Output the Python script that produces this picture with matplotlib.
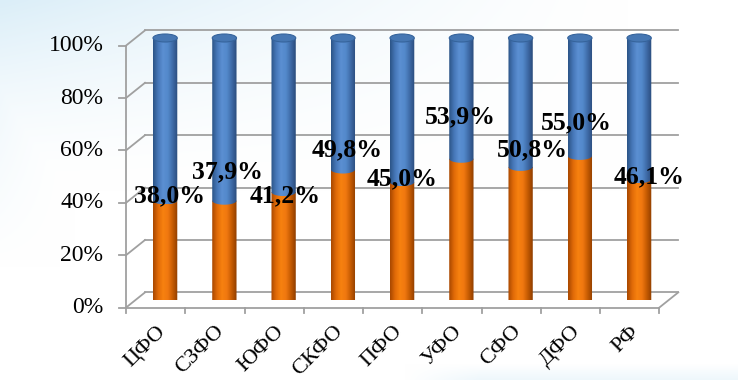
import numpy as np
import matplotlib
matplotlib.use("Agg")
import matplotlib.pyplot as plt
from matplotlib.colors import LinearSegmentedColormap, to_rgb
from matplotlib.patches import Polygon, Ellipse

# data
regions = ["ЦФО", "СЗФО", "ЮФО", "СКФО", "ПФО", "УФО", "СФО", "ДФО", "РФ"]
orange_share = [38.0, 37.9, 41.2, 49.8, 45.0, 53.9, 50.8, 55.0, 46.1]
blue_share = [100 - v for v in orange_share]
value_labels = ["38,0%", "37,9%", "41,2%", "49,8%", "45,0%", "53,9%", "50,8%", "55,0%", "46,1%"]
# label positions (placed by hand in the original), offsets in category units / percent
label_dx = [0.08, 0.05, 0.03, 0.08, 0.0, -0.02, 0.19, -0.06, 0.17]
label_y = [39.7, 48.9, 39.7, 57.3, 46.2, 69.8, 57.3, 67.6, 46.9]
yticks = [0, 20, 40, 60, 80, 100]

plt.rcParams['font.family'] = ['Liberation Serif', 'DejaVu Serif']

W, H = 738, 380
fig = plt.figure(figsize=(W / 100, H / 100), dpi=100)

# background: pale blue wash at top-left fading to white
bg = fig.add_axes([0, 0, 1, 1])
bg.set_axis_off()
yy, xx = np.mgrid[0:1:200j, 0:1:400j]
w = np.clip(1 - yy / 0.5, 0, 1) ** 1.5 * np.clip(1 - xx / 0.85, 0, 1) ** 1.3
w = np.maximum(w, np.clip(1 - xx / 0.1, 0, 1) ** 1.5 * 0.6 * np.clip(1 - yy / 0.7, 0, 1))
w = np.maximum(w, np.clip((yy - 0.96) / 0.04, 0, 1) * 0.45 * np.clip((xx - 0.55) / 0.1, 0, 1))
c0 = np.array(to_rgb("#dbeef8"))
img = (1 - w[..., None]) * 1.0 + w[..., None] * c0
bg.imshow(img, extent=[0, 1, 0, 1], aspect='auto', origin='upper', interpolation='bilinear')
bg.set_xlim(0, 1)
bg.set_ylim(0, 1)

# plot axes: mid-depth plane of the 3D box
x0, x1 = 135.5, 668.75
y0, y1 = 300, 38
ax = fig.add_axes([x0 / W, 1 - y0 / H, (x1 - x0) / W, (y0 - y1) / H])
ax.set_axis_off()
ax.patch.set_alpha(0)

ux = 59.25  # px per category
uy = 2.62   # px per percent
ddx = 9.5 / ux   # depth offset in data units
ddy = 7.6 / uy

grid_c = "#a0a0a0"
lw = 1.3
n = len(regions)
xl, xr = -0.5, n - 0.5
# back wall gridlines + left side diagonals
for t in yticks:
    ax.plot([xl + ddx, xr + ddx], [t + ddy, t + ddy], color=grid_c, lw=lw, clip_on=False, zorder=1)
    ax.plot([xl - ddx, xl + ddx], [t - ddy, t + ddy], color=grid_c, lw=lw, clip_on=False, zorder=1)
    ax.plot([xl - ddx - 0.12, xl - ddx], [t - ddy, t - ddy], color=grid_c, lw=lw, clip_on=False, zorder=1)
    ax.text(xl - ddx - 0.38, t - ddy, f"{t}%", ha='right', va='center', fontsize=17, clip_on=False)
# front left axis
ax.plot([xl - ddx, xl - ddx], [-ddy, 100 - ddy], color=grid_c, lw=lw, clip_on=False, zorder=1)
# floor
ax.plot([xl - ddx, xr - ddx], [-ddy, -ddy], color=grid_c, lw=lw, clip_on=False, zorder=1)
ax.plot([xr - ddx, xr + ddx], [-ddy, ddy], color=grid_c, lw=lw, clip_on=False, zorder=1)
for k in range(n + 1):
    xk = k - 0.5 - ddx
    ax.plot([xk, xk], [-ddy, -ddy - 2.0], color=grid_c, lw=lw, clip_on=False, zorder=1)

# category labels
for i, name in enumerate(regions):
    ax.text(i - ddx, -ddy - 5.5, name, rotation=45, ha='right', va='top',
            rotation_mode='anchor', fontsize=16, clip_on=False)

orange_cm = LinearSegmentedColormap.from_list("o", ["#a84800", "#e06a08", "#f7810f", "#f07810", "#c45a02", "#8f3e00"])
blue_cm = LinearSegmentedColormap.from_list("b", ["#2c5487", "#4677b8", "#5b8fd2", "#5389cb", "#3e6aa6", "#2a4c7c"])
grad = np.linspace(0, 1, 64)[None, :]

a = 0.205   # cylinder half width (category units)
b = 4.0 / uy  # ellipse half height (percent)
tt = np.linspace(np.pi, 2 * np.pi, 40)


def body(cx, lo, hi):
    # outline: left side, lower front arc at lo, right side, straight top at hi
    arc = np.column_stack([cx + a * np.cos(tt), lo + b * np.sin(tt)])
    return np.vstack([[cx - a, hi], arc, [cx + a, hi]])


for i in range(n):
    v = orange_share[i]
    # orange part
    poly = Polygon(body(i, 0, v), closed=True, facecolor='none', edgecolor='none')
    ax.add_patch(poly)
    im = ax.imshow(grad, cmap=orange_cm, extent=[i - a, i + a, -b, v], aspect='auto',
                   zorder=3, interpolation='bilinear')
    im.set_clip_path(poly)
    # blue part
    poly2 = Polygon(body(i, v, 100), closed=True, facecolor='none', edgecolor='none')
    ax.add_patch(poly2)
    im2 = ax.imshow(grad, cmap=blue_cm, extent=[i - a, i + a, v - b, 100], aspect='auto',
                    zorder=4, interpolation='bilinear')
    im2.set_clip_path(poly2)
    # top cap
    ax.add_patch(Ellipse((i, 100), 2 * a, 2 * b, facecolor="#4677b3", edgecolor="#36649c",
                         lw=0.8, zorder=5, clip_on=False))

ax.set_xlim(-0.5, 8.5)
ax.set_ylim(0, 100)

# value labels
for i in range(n):
    ax.text(i + label_dx[i], label_y[i], value_labels[i], ha='center', va='center',
            fontsize=18.5, fontweight='bold', zorder=6, clip_on=False)

fig.savefig("out.png", dpi=100)
